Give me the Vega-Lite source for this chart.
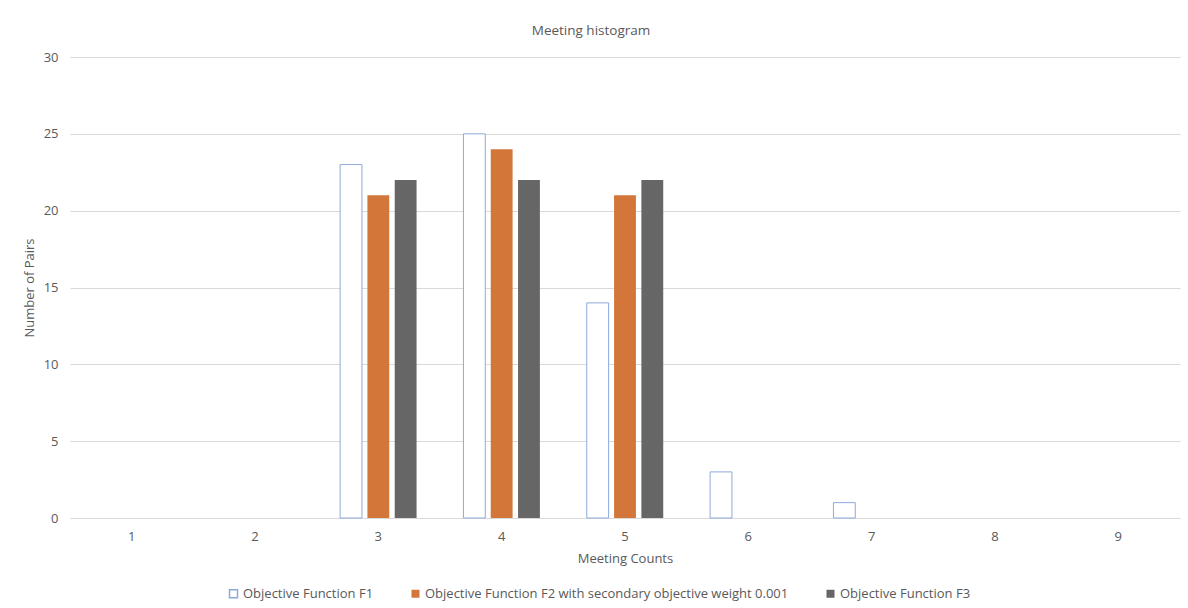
{
  "$schema": "https://vega.github.io/schema/vega-lite/v6.json",
  "autosize": {"type": "none"},
  "width": 1110,
  "height": 461,
  "padding": {"left": 70, "top": 57, "right": 8, "bottom": 90},
  "background": "white",
  "title": {"text": "Meeting histogram", "fontSize": 13.5, "font": "Open Sans", "fontWeight": "normal", "color": "#595959", "offset": 14, "anchor": "middle", "dx": -34},
  "config": {
    "font": "Open Sans",
    "view": {"stroke": null},
    "axis": {"labelColor": "#595959", "titleColor": "#595959", "labelFontSize": 13, "titleFontSize": 13, "titleFontWeight": "normal", "gridColor": "#d9d9d9", "domainColor": "#d9d9d9", "ticks": false, "labelFont": "Open Sans", "titleFont": "Open Sans"},
    "legend": {"labelColor": "#595959", "labelFontSize": 13, "labelFont": "Open Sans"}
  },
  "data": {
    "values": [
      {"count": 3, "series": "Objective Function F1", "pairs": 23},
      {"count": 3, "series": "Objective Function F2 with secondary objective weight 0.001", "pairs": 21},
      {"count": 3, "series": "Objective Function F3", "pairs": 22},
      {"count": 4, "series": "Objective Function F1", "pairs": 25},
      {"count": 4, "series": "Objective Function F2 with secondary objective weight 0.001", "pairs": 24},
      {"count": 4, "series": "Objective Function F3", "pairs": 22},
      {"count": 5, "series": "Objective Function F1", "pairs": 14},
      {"count": 5, "series": "Objective Function F2 with secondary objective weight 0.001", "pairs": 21},
      {"count": 5, "series": "Objective Function F3", "pairs": 22},
      {"count": 6, "series": "Objective Function F1", "pairs": 3},
      {"count": 6, "series": "Objective Function F2 with secondary objective weight 0.001", "pairs": 0},
      {"count": 6, "series": "Objective Function F3", "pairs": 0},
      {"count": 7, "series": "Objective Function F1", "pairs": 1},
      {"count": 7, "series": "Objective Function F2 with secondary objective weight 0.001", "pairs": 0},
      {"count": 7, "series": "Objective Function F3", "pairs": 0}
    ]
  },
  "mark": {"type": "bar", "strokeWidth": 1},
  "encoding": {
    "x": {
      "field": "count", "type": "ordinal",
      "scale": {"domain": [1, 2, 3, 4, 5, 6, 7, 8, 9], "paddingInner": 0.38, "paddingOuter": 0.19},
      "axis": {"title": "Meeting Counts", "labelAngle": 0, "labelPadding": 12, "titlePadding": 9, "domain": false, "grid": false}
    },
    "xOffset": {
      "field": "series", "type": "nominal",
      "sort": ["Objective Function F1", "Objective Function F2 with secondary objective weight 0.001", "Objective Function F3"],
      "scale": {"paddingInner": 0.2, "paddingOuter": 0}
    },
    "y": {
      "field": "pairs", "type": "quantitative",
      "scale": {"domain": [0, 30]},
      "axis": {"title": "Number of Pairs", "values": [0, 5, 10, 15, 20, 25, 30], "labelPadding": 12, "titlePadding": 7, "domain": false, "grid": true}
    },
    "fill": {
      "field": "series", "type": "nominal",
      "sort": ["Objective Function F1", "Objective Function F2 with secondary objective weight 0.001", "Objective Function F3"],
      "scale": {"domain": ["Objective Function F1", "Objective Function F2 with secondary objective weight 0.001", "Objective Function F3"], "range": ["#ffffff", "#D2763A", "#666666"]},
      "legend": {"title": null, "orient": "none", "legendX": 157, "legendY": 530, "direction": "horizontal", "symbolType": "square", "symbolSize": 64, "columnPadding": 34, "labelOffset": 3, "labelLimit": 500}
    },
    "stroke": {
      "field": "series", "type": "nominal",
      "scale": {"domain": ["Objective Function F1", "Objective Function F2 with secondary objective weight 0.001", "Objective Function F3"], "range": ["#8EA9DB", "transparent", "transparent"]},
      "legend": null
    }
  }
}
